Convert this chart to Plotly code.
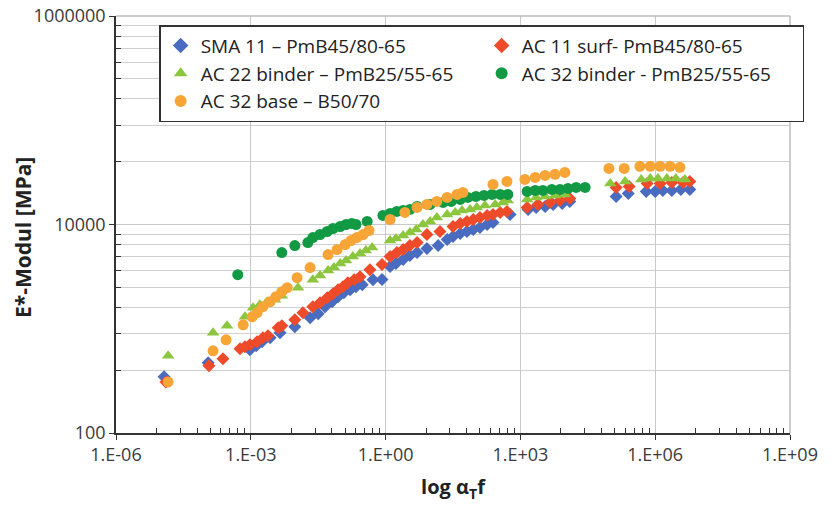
import plotly.graph_objects as go

# ---- data (log10 of reduced frequency, E* modulus in MPa) ----
sma_logf = [-4.93, -3.95, -3.02, -2.88, -2.75, -2.57, -2.35, -2.02, -1.68, -1.50, -1.35, -1.19, -1.06, -0.93, -0.79,
            -0.66, -0.52, -0.28, -0.08, 0.10, 0.23, 0.39, 0.54, 0.70, 0.92, 1.17, 1.37, 1.50, 1.66, 1.81, 1.95, 2.10,
            2.26, 2.39, 2.77, 3.17, 3.35, 3.55, 3.73, 3.93, 4.10, 5.13, 5.40, 5.80, 6.00, 6.17, 6.37, 6.57, 6.77]
sma_E = [346, 471, 628, 687, 750, 819, 916, 1045, 1276, 1394, 1629, 1820, 2032, 2218, 2371, 2535, 2649, 2958, 2960,
         3945, 4217, 4607, 5035, 5383, 5875, 6285, 7178, 7674, 8188, 8570, 8954, 9354, 10000, 10450, 12480, 13940,
         14570, 14900, 15570, 15920, 16640, 18580, 19860, 20760, 20760, 21230, 21230, 21720, 21720]

ac11_logf = [-4.89, -3.93, -3.62, -3.24, -3.13, -3.02, -2.86, -2.73, -2.62, -2.39, -2.31, -2.02, -1.84, -1.62, -1.46,
             -1.30, -1.17, -1.06, -0.95, -0.84, -0.70, -0.57, -0.35, -0.08, 0.10, 0.25, 0.39, 0.54, 0.70, 0.92, 1.21,
             1.50, 1.66, 1.81, 1.95, 2.10, 2.26, 2.39, 2.55, 2.70, 3.15, 3.39, 3.66, 3.88, 4.10, 5.13, 5.42, 5.82,
             6.11, 6.37, 6.62, 6.77]
ac11_E = [309, 441, 515, 642, 671, 702, 750, 819, 857, 1022, 1069, 1221, 1425, 1629, 1778, 1986, 2172, 2371, 2535,
          2769, 2958, 3162, 3690, 4124, 4923, 5383, 5751, 6285, 6714, 8017, 8570, 9568, 10230, 10690, 11170, 11670,
          12210, 12480, 13040, 13340, 14570, 15570, 16280, 17010, 17780, 22690, 23190, 24780, 24780, 25330, 25330,
          25890]

ac22_logf = [-4.84, -3.84, -3.53, -3.13, -2.95, -2.80, -2.64, -2.46, -2.31, -1.95, -1.62, -1.46, -1.28, -1.15, -1.01,
             -0.88, -0.73, -0.57, -0.44, -0.30, 0.10, 0.23, 0.39, 0.54, 0.68, 0.83, 0.99, 1.14, 1.37, 1.55, 1.70,
             1.88, 2.03, 2.21, 2.44, 2.61, 2.72, 3.15, 3.35, 3.55, 3.77, 3.99, 5.00, 5.33, 5.69, 5.89, 6.06, 6.26,
             6.46, 6.66]
ac22_E = [550, 916, 1069, 1303, 1592, 1702, 1820, 1901, 2075, 2478, 2958, 3234, 3611, 3862, 4217, 4508, 4923, 5263,
          5623, 6012, 7017, 7330, 7834, 8376, 8954, 10000, 10690, 11670, 12480, 13040, 13640, 13940, 14570, 15230,
          15570, 16280, 17010, 17380, 18180, 18580, 19010, 19410, 24780, 25890, 27080, 27680, 27680, 27680, 27680,
          27080]

ac32b_logf = [-3.29, -2.31, -2.02, -1.73, -1.62, -1.46, -1.30, -1.17, -1.01, -0.88, -0.75, -0.66, -0.41, -0.06, 0.10,
              0.25, 0.39, 0.54, 0.70, 0.99, 1.28, 1.46, 1.66, 1.83, 2.01, 2.19, 2.37, 2.55, 2.72, 3.15, 3.33, 3.50,
              3.70, 3.88, 4.06, 4.24, 4.44]
ac32b_E = [3304, 5383, 6285, 6714, 7499, 8017, 8570, 9155, 9568, 10000, 10230, 10000, 10690, 12210, 12760, 13340,
           13640, 13940, 14900, 15570, 16280, 16640, 17380, 18180, 18580, 19010, 19410, 19410, 19410, 20760, 21230,
           21230, 21720, 21720, 22200, 22690, 22690]

base_logf = [-4.84, -3.84, -3.55, -3.17, -2.97, -2.86, -2.73, -2.57, -2.44, -2.31, -2.19, -1.97, -1.68, -1.28, -1.08,
             -0.90, -0.77, -0.64, -0.50, -0.37, 0.10, 0.43, 0.70, 0.92, 1.14, 1.37, 1.59, 1.72, 2.39, 2.70, 3.10,
             3.33, 3.55, 3.77, 3.99, 4.97, 5.31, 5.66, 5.89, 6.11, 6.33, 6.55]
base_E = [309, 614, 784, 1092, 1303, 1425, 1629, 1820, 2032, 2270, 2478, 3090, 3862, 5152, 5751, 6427, 7017, 7499,
          8017, 8756, 11170, 13040, 14570, 15570, 16640, 18180, 19410, 20310, 24250, 25890, 27080, 28310, 29580,
          30270, 31620, 34520, 34520, 36140, 36140, 36140, 36140, 35320]

series_names = ["SMA 11 \u2013 PmB45/80-65", "AC 11 surf- PmB45/80-65", "AC 22 binder \u2013 PmB25/55-65",
                "AC 32 binder - PmB25/55-65", "AC 32 base \u2013 B50/70"]

x_tickvals = [1e-6, 1e-3, 1e0, 1e3, 1e6, 1e9]
x_ticktext = ["1.E-06", "1.E-03", "1.E+00", "1.E+03", "1.E+06", "1.E+09"]
y_tickvals = [100, 10000, 1000000]
y_ticktext = ["100", "10000", "1000000"]
y_title = "E*-Modul [MPa]"
x_title = "log \u03b1<sub>T</sub>f"

# ---- styling ----
styles = [
    dict(symbol="diamond", color="#4A6CC0", size=10),
    dict(symbol="diamond", color="#EE4B2B", size=10),
    dict(symbol="triangle-up", color="#8CC63F", size=11),
    dict(symbol="circle", color="#119A43", size=11),
    dict(symbol="circle", color="#F7A536", size=11),
]
data = [(sma_logf, sma_E), (ac11_logf, ac11_E), (ac22_logf, ac22_E), (ac32b_logf, ac32b_E), (base_logf, base_E)]

fig = go.Figure()
for name, (lf, E), st in zip(series_names, data, styles):
    fig.add_trace(go.Scatter(
        x=[10 ** v for v in lf], y=E, mode="markers", name=name,
        marker=dict(symbol=st["symbol"], color=st["color"], size=st["size"], line=dict(width=0)),
    ))

# minor tick positions (Excel log base 1000 / base 100 style)
x_minor = [10 ** e * k ** 3 for e in range(-6, 9, 3) for k in range(2, 10)]
y_minor = [10 ** e * k ** 2 for e in (2, 4) for k in range(2, 10)]

tick_font = dict(family="Open Sans, sans-serif", size=18, color="#3a3a3a")
fig.update_layout(
    width=831, height=508,
    margin=dict(l=116, r=41, t=16, b=75, autoexpand=False),
    paper_bgcolor="white", plot_bgcolor="white",
    showlegend=True,
    legend=dict(
        x=0.064, y=0.978, xanchor="left", yanchor="top",
        orientation="h", entrywidth=276, entrywidthmode="pixels",
        bgcolor="white", bordercolor="#333333", borderwidth=1.5,
        font=dict(family="Open Sans, sans-serif", size=19, color="#222222"),
        itemsizing="constant",
    ),
    xaxis=dict(
        type="log", range=[-6, 9], automargin=False, ticklabeloverflow="allow",
        tickmode="array", tickvals=x_tickvals, ticktext=x_ticktext,
        tickfont=tick_font, ticks="outside", ticklen=5, tickcolor="#333333",
        showline=True, linecolor="#333333", linewidth=1.5,
        showgrid=True, gridcolor="#C8C8C8", gridwidth=1, zeroline=False,
        minor=dict(tickmode="array", tickvals=x_minor, ticks="inside", ticklen=5,
                   tickcolor="#333333", showgrid=False),
        title=dict(text="<b>" + x_title + "</b>",
                   font=dict(family="Open Sans, sans-serif", size=20, color="#222222")),
    ),
    yaxis=dict(
        type="log", range=[2, 6], automargin=False, ticklabeloverflow="allow",
        tickmode="array", tickvals=y_tickvals, ticktext=y_ticktext,
        tickfont=tick_font, ticks="outside", ticklen=5, tickcolor="#333333",
        showline=True, linecolor="#333333", linewidth=1.5,
        showgrid=True, gridcolor="#C8C8C8", gridwidth=1, zeroline=False,
        minor=dict(tickmode="array", tickvals=y_minor, ticks="inside", ticklen=5,
                   tickcolor="#333333", showgrid=True, gridcolor="#CFCFCF", gridwidth=1),
    ),
    annotations=[
        dict(text="<b>" + y_title + "</b>", xref="paper", yref="paper", x=-0.138, y=0.47,
             xanchor="center", yanchor="middle", textangle=-90, showarrow=False,
             font=dict(family="Open Sans, sans-serif", size=21, color="#222222")),
    ],
    shapes=[
        dict(type="line", xref="paper", yref="paper", x0=0, x1=1, y0=1, y1=1,
             line=dict(color="#BDBDBD", width=1.5)),
        dict(type="line", xref="paper", yref="paper", x0=1, x1=1, y0=0, y1=1,
             line=dict(color="#BDBDBD", width=1.5)),
    ],
)

fig.write_html("out.html", config={"displayModeBar": False},
               post_script="document.body.style.margin='0';")
